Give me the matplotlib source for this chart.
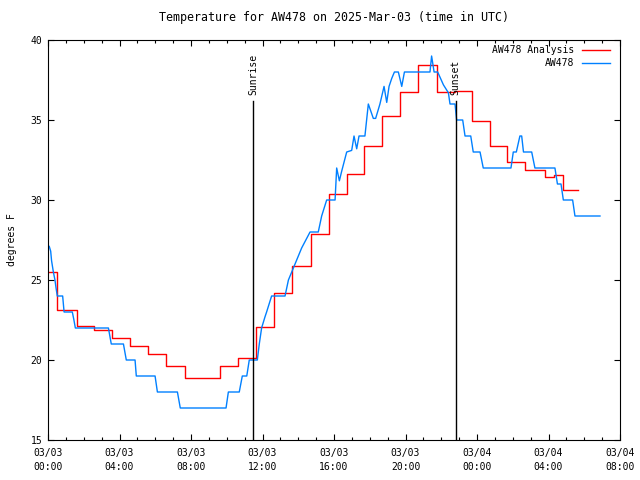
import matplotlib
matplotlib.use('Agg')
import matplotlib.pyplot as plt
from matplotlib.lines import Line2D

# hours since 2025-03-03 00:00 UTC
analysis_hours = [0, 0.5, 1.6, 2.6, 3.6, 4.6, 5.6, 6.6, 7.65, 9.6, 10.65, 11.65, 12.65,
                  13.65, 14.7, 15.7, 16.7, 17.7, 18.7, 19.7, 20.7, 21.75, 22.75, 23.7,
                  24.7, 25.7, 26.7, 27.8, 28.3, 28.8, 29.65]
analysis_temp = [25.5, 23.1, 22.1, 21.9, 21.35, 20.9, 20.35, 19.65, 18.9, 19.6, 20.1, 22.05,
                 24.2, 25.85, 27.85, 30.4, 31.6, 33.35, 35.25, 36.75, 38.45, 36.75, 36.8,
                 34.95, 33.35, 32.35, 31.85, 31.45, 31.55, 30.6, 30.6]

obs_hours = [0.07, 0.15, 0.2, 0.3, 0.39, 0.45, 0.52, 0.82, 0.9, 1.36, 1.45, 1.53, 3.38, 3.54,
             4.22, 4.38, 4.87, 4.94, 5.99, 6.12, 7.24, 7.4, 9.96, 10.09, 10.7, 10.87, 11.12,
             11.26, 11.71, 11.82, 11.95, 12.14, 12.23, 12.51, 13.26, 13.45, 13.82, 14.19,
             14.66, 15.12, 15.31, 15.59, 16.06, 16.15, 16.3, 16.43, 16.71, 16.99, 17.12,
             17.27, 17.4, 17.73, 17.92, 18.2, 18.33, 18.57, 18.8, 18.95, 19.08, 19.23, 19.38,
             19.6, 19.79, 19.94, 21.37, 21.46, 21.6, 21.8, 22.12, 22.4, 22.49, 22.77, 22.86,
             23.2, 23.33, 23.65, 23.79, 24.17, 24.35, 25.9, 26.03, 26.2, 26.4, 26.5, 26.6,
             27.06, 27.24, 28.36, 28.5, 28.7, 28.83, 29.35, 29.48, 30.88]
obs_temp = [27.1, 26.8, 26.2, 25.5, 25.0, 24.5, 24.0, 24.0, 23.0, 23.0, 22.5, 22.0, 22.0, 21.0,
            21.0, 20.0, 20.0, 19.0, 19.0, 18.0, 18.0, 17.0, 17.0, 18.0, 18.0, 19.0, 19.0,
            20.0, 20.0, 21.0, 22.0, 22.7, 23.0, 24.0, 24.0, 25.0, 26.0, 27.0,
            28.0, 28.0, 29.0, 30.0, 30.0, 32.0, 31.2, 31.8, 33.0, 33.1, 34.0,
            33.2, 34.0, 34.0, 36.0, 35.1, 35.1, 36.0, 37.1, 36.1, 37.1, 37.6, 38.0,
            38.0, 37.1, 38.0, 38.0, 39.0, 38.0, 38.0, 37.2, 36.7, 36.0, 36.0, 35.0,
            35.0, 34.0, 34.0, 33.0, 33.0, 32.0, 32.0, 33.0, 33.0, 34.0, 34.0, 33.0,
            33.0, 32.0, 32.0, 31.0, 31.0, 30.0, 30.0, 29.0, 29.0]

sunrise_hour = 11.47
sunset_hour = 22.8

xtick_hours = [0, 4, 8, 12, 16, 20, 24, 28, 32]
xtick_labels = ['03/03\n00:00', '03/03\n04:00', '03/03\n08:00', '03/03\n12:00', '03/03\n16:00',
                '03/03\n20:00', '03/04\n00:00', '03/04\n04:00', '03/04\n08:00']
yticks = [15, 20, 25, 30, 35, 40]

plt.rcParams['font.family'] = 'DejaVu Sans Mono'
plt.rcParams['font.size'] = 7

fig = plt.figure(figsize=(6.4, 4.8), dpi=100)
ax = fig.add_axes([48 / 640, 40 / 480, 572 / 640, 400 / 480])

red = '#ff0000'
blue = '#0080ff'
ax.plot(analysis_hours, analysis_temp, color=red, lw=1.0, drawstyle='steps-post')
ax.plot(obs_hours, obs_temp, color=blue, lw=1.0)

# sunrise / sunset markers
for h, name in [(sunrise_hour, 'Sunrise'), (sunset_hour, 'Sunset')]:
    ax.plot([h, h], [15, 36.2], color='black', lw=1.0)
    ax.text(h, 36.55, name, rotation=90, ha='center', va='bottom')

ax.set_xlim(0, 32)
ax.set_ylim(15, 40)
ax.set_xticks(xtick_hours)
ax.set_xticklabels(xtick_labels, linespacing=1.5)
ax.set_xticks(range(0, 33), minor=True)
ax.set_yticks(yticks)
ax.tick_params(which='both', direction='in', top=True, right=True, width=0.8)
ax.tick_params(which='major', length=4.5)
ax.tick_params(which='minor', length=2.5)
ax.tick_params(axis='x', pad=6)
ax.tick_params(axis='y', pad=4)
for s in ax.spines.values():
    s.set_linewidth(0.8)

ax.set_ylabel('degrees F', labelpad=10)
ax.set_title('Temperature for AW478 on 2025-Mar-03 (time in UTC)', pad=14)

# legend, gnuplot style (text right-aligned, sample to the right)
for yy, lab, col in [(0.975, 'AW478 Analysis', red), (0.943, 'AW478', blue)]:
    ax.text(0.9196, yy, lab, transform=ax.transAxes, ha='right', va='center')
    ax.add_line(Line2D([0.933, 0.9825], [yy, yy], transform=ax.transAxes, color=col, lw=1.0))

fig.savefig('out.png', dpi=100)
